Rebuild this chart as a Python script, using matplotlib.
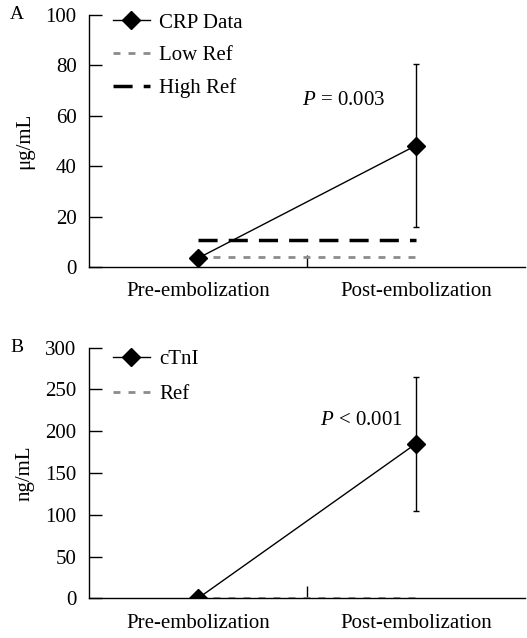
import matplotlib.pyplot as plt

plt.rcParams['font.family'] = ['Liberation Serif', 'DejaVu Serif']
plt.rcParams['font.size'] = 15
plt.rcParams['mathtext.fontset'] = 'custom'
plt.rcParams['mathtext.rm'] = 'Liberation Serif'
plt.rcParams['mathtext.it'] = 'Liberation Serif:italic'

groups = ['Pre-embolization', 'Post-embolization']
crp_mean = [3.5, 48.2]
crp_err_low = [0, 32.2]
crp_err_high = [0, 32.3]
crp_low_ref = [4, 4]
crp_high_ref = [10.7, 10.7]

ctni_mean = [0, 185]
ctni_err_low = [0, 80]
ctni_err_high = [0, 80]
ctni_ref = [0, 0]

fig = plt.figure(figsize=(5.27, 6.38), dpi=100)
xpos = [0.5, 1.5]


def setup_axis(ax, ymax, ystep, ylabel, letter):
    ax.set_xlim(0, 2)
    ax.set_ylim(0, ymax)
    ax.set_yticks(range(0, ymax + 1, ystep))
    ax.spines['top'].set_visible(False)
    ax.spines['right'].set_visible(False)
    ax.spines['left'].set_linewidth(1)
    ax.spines['bottom'].set_linewidth(1)
    ax.tick_params(axis='y', direction='in', length=9, width=1, pad=9)
    ax.set_xticks([1])
    ax.set_xticklabels([''])
    ax.tick_params(axis='x', which='major', direction='in', length=9, width=1)
    ax.set_xticks(xpos, minor=True)
    ax.set_xticklabels(groups, minor=True)
    ax.tick_params(axis='x', which='minor', length=0, pad=11)
    ax.set_ylabel(ylabel, labelpad=8)
    ax.text(-0.165, 1.0, letter, transform=ax.transAxes, ha='center', va='center', fontsize=14)


def draw_series(ax, mean, err_low, err_high, label):
    ax.errorbar(xpos[1:], mean[1:], yerr=[err_low[1:], err_high[1:]], fmt='none',
                ecolor='black', elinewidth=1, capsize=2.5, capthick=1, zorder=3)
    return ax.plot(xpos, mean, color='black', lw=1, marker='D', markersize=9,
                   label=label, zorder=4)[0]


# panel A
ax1 = fig.add_axes([0.169, 0.5815, 0.827, 0.395])
hi = ax1.plot(xpos, crp_high_ref, color='black', lw=2.5, dashes=(5.5, 3.2), label='High Ref', zorder=2)[0]
lo = ax1.plot(xpos, crp_low_ref, color='#8c8c8c', lw=2, dashes=(2.5, 2.9), label='Low Ref', zorder=2)[0]
crp = draw_series(ax1, crp_mean, crp_err_low, crp_err_high, 'CRP Data')
setup_axis(ax1, 100, 20, 'μg/mL', 'A')
ax1.text(1.17, 66, '$P$ = 0.003', ha='center', va='center')
ax1.legend([crp, lo, hi], ['CRP Data', 'Low Ref', 'High Ref'], loc='upper left', frameon=False,
           bbox_to_anchor=(0.011, 1.082), handlelength=1.8, handletextpad=0.45, labelspacing=0.62)

# panel B
ax2 = fig.add_axes([0.169, 0.0622, 0.827, 0.393])
ref = ax2.plot(xpos, ctni_ref, color='#8c8c8c', lw=2, dashes=(2.5, 2.9), label='Ref', zorder=2)[0]
ctni = draw_series(ax2, ctni_mean, ctni_err_low, ctni_err_high, 'cTnI')
setup_axis(ax2, 300, 50, 'ng/mL', 'B')
ax2.text(1.25, 213, '$P$ < 0.001', ha='center', va='center')
ax2.legend([ctni, ref], ['cTnI', 'Ref'], loc='upper left', frameon=False,
           bbox_to_anchor=(0.011, 1.066), handlelength=1.8, handletextpad=0.45, labelspacing=0.72)

fig.savefig('out.png', dpi=100)
